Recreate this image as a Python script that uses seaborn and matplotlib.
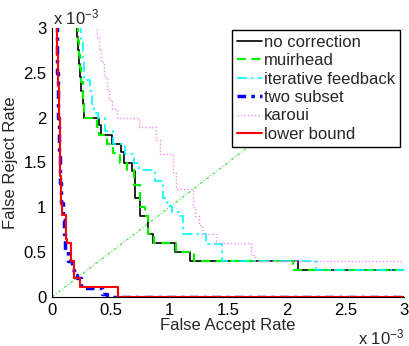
import matplotlib
matplotlib.use("Agg")
import matplotlib.pyplot as plt
import seaborn as sns

# values in units of 1e-3
nc_x = [0.20, 0.21, 0.22, 0.23, 0.24, 0.25, 0.26, 0.27, 0.40, 0.42, 0.51, 0.59, 0.61, 0.68, 0.71, 0.75, 0.82, 0.86, 1.05, 1.18, 2.10, 3.00]
nc_y = [3.05, 2.90, 2.75, 2.60, 2.45, 2.30, 2.15, 2.00, 1.92, 1.81, 1.71, 1.62, 1.50, 1.40, 1.10, 0.90, 0.70, 0.60, 0.50, 0.40, 0.30, 0.30]

mh_x = [0.21, 0.22, 0.23, 0.24, 0.25, 0.26, 0.27, 0.38, 0.40, 0.47, 0.52, 0.58, 0.64, 0.70, 0.75, 0.79, 0.82, 0.87, 1.06, 1.21, 2.05, 3.00]
mh_y = [3.05, 2.85, 2.70, 2.55, 2.40, 2.20, 2.00, 1.90, 1.81, 1.71, 1.61, 1.50, 1.42, 1.25, 1.00, 0.90, 0.70, 0.60, 0.50, 0.40, 0.30, 0.30]

if_x = [0.24, 0.25, 0.26, 0.27, 0.32, 0.34, 0.36, 0.39, 0.45, 0.52, 0.62, 0.70, 0.74, 0.88, 0.95, 0.98, 1.02, 1.08, 1.12, 1.31, 1.45, 2.25, 3.00]
if_y = [3.05, 2.85, 2.65, 2.42, 2.30, 2.15, 2.05, 2.00, 1.85, 1.71, 1.60, 1.50, 1.42, 1.29, 1.10, 1.01, 0.95, 0.90, 0.70, 0.59, 0.40, 0.30, 0.30]

ts_x = [0.035, 0.045, 0.055, 0.062, 0.068, 0.080, 0.097, 0.105, 0.110, 0.140, 0.168, 0.190, 0.210, 0.250, 0.430, 0.470, 3.00]
ts_y = [3.05, 2.50, 2.00, 1.60, 1.27, 1.05, 0.86, 0.70, 0.52, 0.40, 0.30, 0.25, 0.21, 0.10, 0.03, 0.00, 0.00]

ka_x = [0.367, 0.38, 0.40, 0.42, 0.44, 0.466, 0.49, 0.51, 0.55, 0.74, 0.89, 0.92, 1.03, 1.06, 1.20, 1.22, 1.25, 1.28, 1.40, 1.70, 1.73, 3.00]
ka_y = [3.05, 2.90, 2.75, 2.62, 2.45, 2.31, 2.20, 2.10, 2.00, 1.90, 1.75, 1.60, 1.38, 1.21, 1.00, 0.90, 0.80, 0.70, 0.60, 0.47, 0.40, 0.40]

lb_x = [0.040, 0.046, 0.052, 0.058, 0.064, 0.070, 0.076, 0.082, 0.120, 0.130, 0.160, 0.190, 0.240, 0.565, 3.00]
lb_y = [3.05, 2.70, 2.35, 2.00, 1.65, 1.35, 1.05, 0.91, 0.65, 0.60, 0.40, 0.21, 0.11, 0.00, 0.00]

diag_x = [0.0, 3.0]
diag_y = [0.0, 3.0]

ticks = [0, 0.5, 1, 1.5, 2, 2.5, 3]
tick_labels = ["0", "0.5", "1", "1.5", "2", "2.5", "3"]

sns.set_style("white")
plt.rcParams['font.family'] = ['Liberation Sans', 'DejaVu Sans']
plt.rcParams['mathtext.fontset'] = 'custom'
plt.rcParams['mathtext.rm'] = 'Liberation Sans'
plt.rcParams['mathtext.it'] = 'Liberation Sans'

fig = plt.figure(figsize=(4.10, 3.46), dpi=100)
ax = fig.add_axes([52/410, 1-297/346, (404-52)/410, (297-28)/346])

series = [
    (nc_x, nc_y, "no correction", "black", "-", 1.2),
    (mh_x, mh_y, "muirhead", "#00ee00", (0, (4, 2.5)), 1.6),
    (if_x, if_y, "iterative feedback", "cyan", (0, (6, 2.5, 1.5, 2.5)), 1.2),
    (ts_x, ts_y, "two subset", "blue", (0, (2.5, 1.5, 1, 1.5)), 2.5),
    (ka_x, ka_y, "karoui", "#f090f0", (0, (1, 1.5)), 1.0),
    (lb_x, lb_y, "lower bound", "red", "-", 1.5),
]
for xs, ys, lab, col, ls, lw in series:
    sns.lineplot(x=xs, y=ys, ax=ax, sort=False, estimator=None,
                 drawstyle="steps-post", color=col, linestyle=ls,
                 linewidth=lw, label=lab)

sns.lineplot(x=diag_x, y=diag_y, ax=ax, sort=False, estimator=None,
             color="#22dd22", linestyle=(0, (3, 2, 1, 2)), linewidth=0.7, zorder=1)

ax.set_xlim(0, 3)
ax.set_ylim(0, 3)
ax.set_xticks(ticks)
ax.set_xticklabels(tick_labels)
ax.set_yticks(ticks)
ax.set_yticklabels(tick_labels)
ax.tick_params(direction="in", length=3, width=0.8, labelsize=12, color="black",
               labelcolor="black", pad=4)
for s in ["top", "right"]:
    ax.spines[s].set_visible(False)
for s in ["left", "bottom"]:
    ax.spines[s].set_color("black")
    ax.spines[s].set_linewidth(0.8)

ax.set_xlabel("False Accept Rate", fontsize=12, labelpad=0)
ax.set_ylabel("False Reject Rate", fontsize=12)
ax.yaxis.set_label_coords(-0.098, 0.5)

fig.text(53/410, 1-17/346, "x 10$^{-3}$", fontsize=12, ha="left", va="center")
fig.text(358/410, 1-337/346, "x 10$^{-3}$", fontsize=12, ha="left", va="center")

leg = ax.legend(loc="upper right", bbox_to_anchor=(400/410, 1-30/346),
                bbox_transform=fig.transFigure, fontsize=12, frameon=True,
                fancybox=False, framealpha=1, edgecolor="black",
                handlelength=1.5, handletextpad=0.1, labelspacing=0.2,
                borderpad=0.3, borderaxespad=0)
leg.get_frame().set_linewidth(1.0)

fig.savefig("out.png", dpi=100)
